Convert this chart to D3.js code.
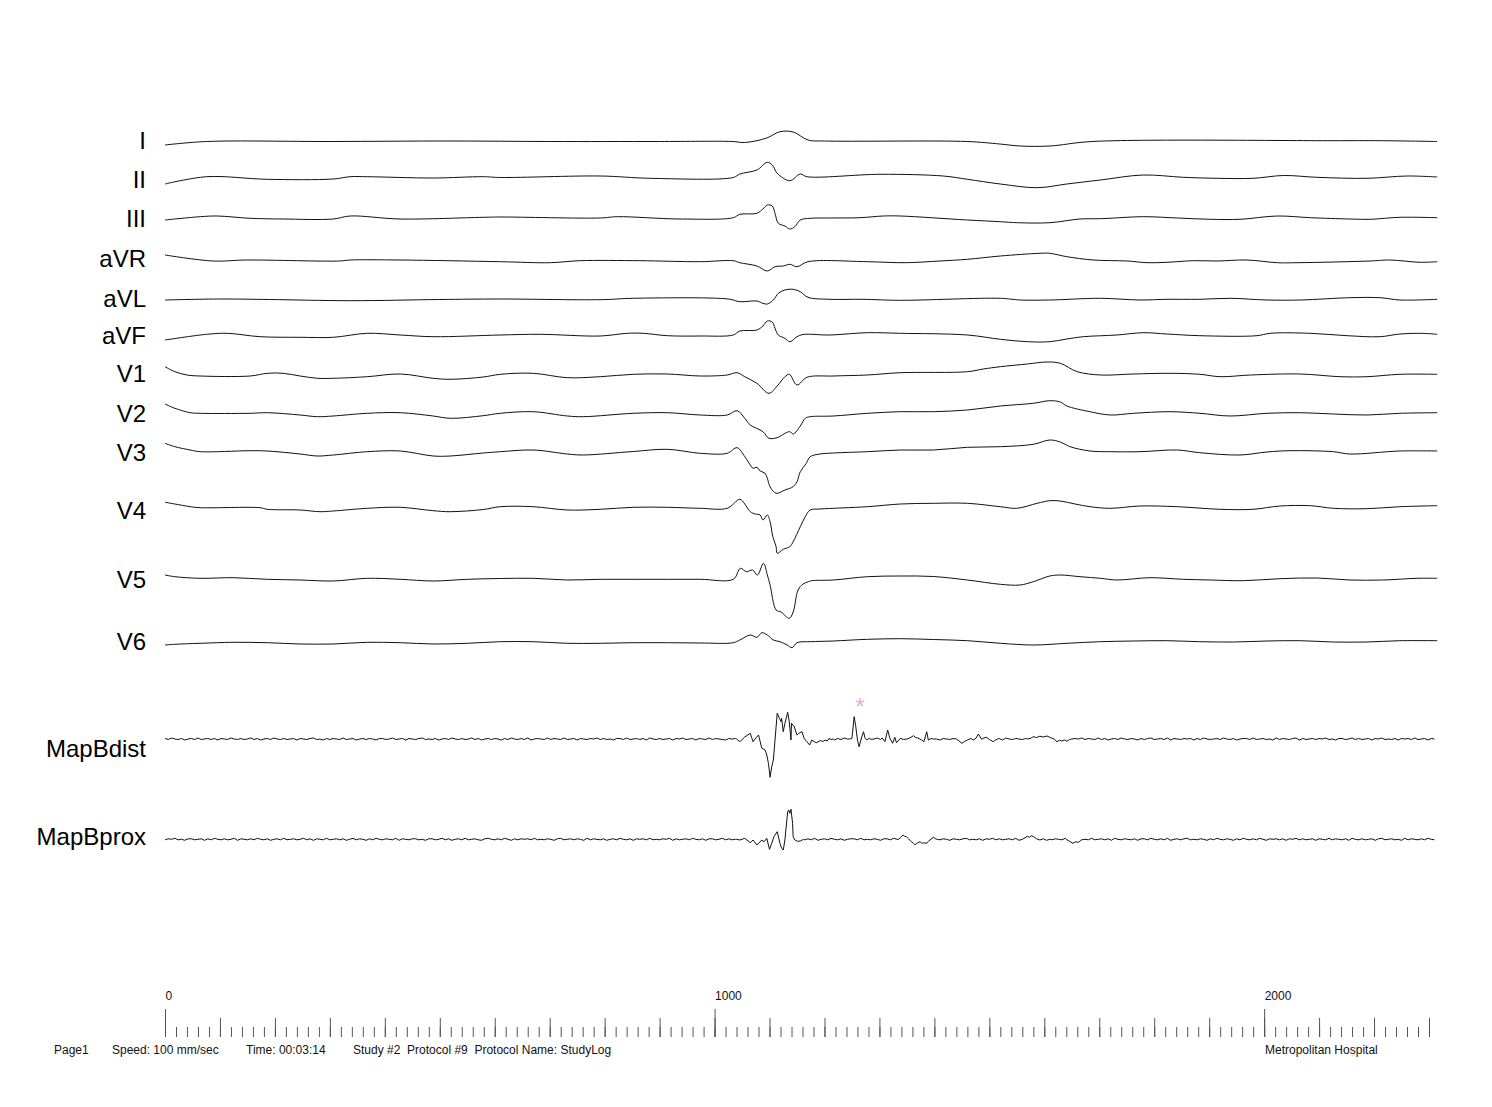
<!DOCTYPE html>
<html>
<head>
<meta charset="utf-8">
<script src="https://cdn.jsdelivr.net/npm/d3@7"></script>
<style>
  body { margin: 0; background: #fff; }
  text { font-family: "Liberation Sans", Arial, Helvetica, sans-serif; }
</style>
</head>
<body>
<div id="chart"></div>
<script>
// ---- data: time in ms, amplitude in mV ----
const leadI = [[0,-0.35],[76,0],[300,0],[520,0.05],[700,0],[900,0],[1032,0],[1055,-0.1],[1095,0.35],[1119,0.98],[1143,0.95],[1170,0.15],[1200,0.05],[1459,0],[1519,-0.25],[1556,-0.45],[1610,-0.45],[1687,0],[2125,0.08],[2211,0.08],[2315,0]];
const leadII = [[0,-0.65],[76,0.08],[186,-0.18],[306,-0.15],[337,0.08],[368,0.08],[488,-0.05],[579,0.08],[610,0],[792,0.15],[883,-0.08],[1034,0],[1046,0.35],[1077,0.75],[1096,1.52],[1105,1.25],[1114,0.42],[1137,-0.32],[1156,0.35],[1168,0.08],[1301,0.32],[1416,0.15],[1460,-0.18],[1520,-0.65],[1587,-1.02],[1641,-0.65],[1702,-0.25],[1780,0.25],[1853,0.02],[1914,-0.08],[1980,-0.08],[2035,0.2],[2096,0.02],[2187,-0.08],[2260,0.15],[2315,0.05]];
const leadIII = [[0,-0.25],[64,0.08],[95,0.15],[155,-0.08],[215,-0.15],[306,-0.15],[337,0.15],[428,-0.15],[579,0.02],[610,0.05],[792,-0.05],[823,0.08],[937,-0.15],[1034,-0.02],[1046,0.32],[1077,0.42],[1088,0.85],[1096,1.25],[1105,1.15],[1110,0.42],[1116,-0.58],[1128,-0.85],[1137,-1.15],[1146,-0.92],[1156,-0.25],[1174,-0.08],[1210,-0.05],[1265,-0.02],[1307,0.15],[1338,0.15],[1460,-0.25],[1520,-0.42],[1550,-0.52],[1610,-0.52],[1665,-0.15],[1702,-0.12],[1780,0.08],[1842,-0.05],[1902,-0.18],[1956,-0.18],[2024,0.15],[2084,-0.02],[2156,-0.15],[2193,-0.18],[2247,0.02],[2315,-0.02]];
const leadAVR = [[0,0.6],[87,0],[149,0.1],[318,0],[337,0.1],[428,0.1],[610,-0.07],[701,-0.17],[755,0.03],[864,0.03],[974,-0.07],[1034,0.03],[1046,-0.17],[1077,-0.5],[1096,-1.0],[1110,-0.57],[1125,-0.5],[1137,-0.33],[1150,-0.57],[1170,-0.07],[1278,-0.07],[1347,-0.17],[1410,0],[1460,0.17],[1520,0.5],[1592,0.77],[1610,0.77],[1641,0.43],[1689,0.1],[1751,0],[1787,-0.17],[1823,-0.13],[1871,0.03],[1914,0],[1969,0.1],[2024,-0.17],[2060,-0.17],[2193,0],[2229,0.1],[2284,-0.13],[2315,-0.07]];
const leadAVL = [[0,-0.05],[100,0.05],[190,0],[337,-0.12],[500,0],[610,0.05],[792,-0.02],[852,0.12],[1025,0.05],[1046,-0.22],[1077,-0.15],[1088,-0.38],[1096,-0.45],[1107,-0.05],[1116,0.62],[1128,0.95],[1143,1.02],[1156,0.78],[1170,0.22],[1210,0.02],[1270,0.02],[1338,-0.08],[1520,0.12],[1556,-0.05],[1610,-0.05],[1702,0.12],[1774,-0.05],[1823,0.02],[1883,0.02],[1938,0.12],[2005,-0.05],[2066,-0.05],[2156,0.18],[2211,0.18],[2247,-0.05],[2315,0.02]];
const leadAVF = [[0,-0.5],[76,0.07],[113,0.17],[173,-0.17],[246,-0.23],[306,-0.23],[368,0.17],[428,0],[488,-0.17],[610,0],[682,0.07],[792,-0.1],[841,0.17],[870,0.17],[914,-0.07],[974,-0.1],[1034,0],[1046,0.4],[1077,0.5],[1088,0.9],[1096,1.4],[1105,1.3],[1110,0.67],[1116,0],[1128,-0.33],[1137,-0.67],[1150,-0.17],[1161,0.05],[1210,0],[1278,0.23],[1338,0.17],[1460,0],[1520,-0.43],[1569,-0.67],[1610,-0.67],[1641,-0.4],[1671,-0.17],[1732,0],[1780,0.23],[1823,0.1],[1883,-0.07],[1987,-0.07],[2011,0.17],[2084,0.17],[2151,-0.07],[2211,-0.17],[2247,0.1],[2284,0.17],[2315,0.07]];
const leadV1 = [[0,0.83],[18,0.33],[40,0],[64,-0.1],[155,-0.1],[186,0.17],[215,0.17],[246,-0.1],[277,-0.33],[306,-0.33],[368,-0.17],[428,0.1],[488,-0.33],[519,-0.43],[579,-0.2],[610,0.07],[670,0.17],[732,-0.27],[792,-0.17],[852,0.07],[914,0.1],[974,-0.1],[1023,0],[1041,0.23],[1055,-0.17],[1077,-0.83],[1099,-1.83],[1114,-1.1],[1128,-0.17],[1136,0.07],[1150,-1.0],[1168,-0.23],[1216,-0.1],[1278,0],[1338,0.23],[1460,0.33],[1489,0.6],[1520,0.83],[1569,1.1],[1605,1.3],[1629,1.17],[1660,0.33],[1702,0],[1762,0.1],[1829,0.17],[1883,0.07],[1920,-0.17],[1975,0],[2066,0.1],[2138,-0.17],[2187,-0.17],[2247,0.07],[2315,0.07]];
const leadV2 = [[0,0.95],[18,0.52],[46,0.08],[64,0.02],[155,0.02],[186,0.08],[246,-0.15],[277,-0.32],[306,-0.25],[368,0.02],[428,0.08],[488,-0.25],[519,-0.48],[579,-0.22],[610,0.02],[670,0.18],[732,-0.25],[761,-0.32],[852,0.02],[914,0.08],[974,-0.15],[1023,-0.15],[1041,0.28],[1055,-0.48],[1065,-1.15],[1088,-1.82],[1099,-2.48],[1116,-2.38],[1128,-1.98],[1137,-1.82],[1143,-2.05],[1156,-1.25],[1165,-0.48],[1174,-0.32],[1216,-0.25],[1278,0.02],[1338,0.18],[1398,0.18],[1460,0.35],[1520,0.75],[1580,1.02],[1610,1.28],[1629,1.15],[1641,0.75],[1683,0.18],[1720,-0.15],[1762,0.02],[1829,0.18],[1883,0.02],[1938,-0.25],[2005,0.02],[2066,0.08],[2126,-0.05],[2187,-0.15],[2247,0.02],[2315,0.08]];
const leadV3 = [[0,0.87],[18,0.53],[46,0.2],[64,0.03],[155,0.13],[186,0.1],[246,-0.2],[277,-0.4],[306,-0.3],[368,0.03],[428,0.1],[488,-0.4],[519,-0.4],[579,-0.1],[610,0.03],[670,0.2],[732,-0.2],[761,-0.3],[852,0.05],[914,0.27],[974,-0.13],[1023,-0.13],[1041,0.43],[1055,-0.47],[1065,-1.3],[1070,-1.63],[1077,-1.53],[1083,-1.9],[1092,-2.13],[1096,-2.63],[1101,-3.47],[1112,-4.13],[1128,-3.8],[1143,-3.47],[1150,-2.97],[1156,-1.97],[1167,-1.13],[1174,-0.47],[1192,-0.2],[1216,-0.1],[1278,0.03],[1338,0.2],[1398,0.2],[1460,0.47],[1520,0.53],[1580,0.77],[1610,1.2],[1629,1.0],[1647,0.53],[1683,0.1],[1720,0.03],[1774,0.03],[1842,0.2],[1883,-0.07],[1956,-0.3],[2005,0],[2047,0.13],[2126,0.03],[2156,-0.2],[2247,0.1],[2315,0.1]];
const leadV4 = [[0,0.47],[18,0.3],[46,0.03],[64,-0.07],[173,-0.07],[186,-0.23],[246,-0.3],[282,-0.47],[306,-0.4],[368,-0.13],[428,-0.03],[488,-0.37],[519,-0.47],[579,-0.25],[610,0.03],[670,0.03],[732,-0.3],[792,-0.23],[852,-0.03],[914,-0.03],[974,-0.13],[1023,-0.13],[1046,0.77],[1055,0.3],[1065,-0.47],[1074,-0.7],[1083,-0.8],[1088,-1.3],[1096,-0.8],[1101,-1.47],[1106,-2.97],[1112,-3.97],[1114,-4.63],[1125,-4.23],[1137,-3.97],[1143,-3.47],[1156,-1.97],[1165,-0.97],[1174,-0.3],[1192,-0.2],[1278,0.03],[1338,0.3],[1398,0.37],[1460,0.37],[1520,0.03],[1550,-0.13],[1587,0.37],[1610,0.63],[1629,0.6],[1656,0.3],[1683,0.03],[1720,-0.13],[1774,0.1],[1842,0.03],[1920,-0.23],[1980,-0.23],[2029,0.1],[2084,0.13],[2126,-0.13],[2187,-0.17],[2247,0.03],[2315,0.13]];
const leadV5 = [[0,0.4],[18,0.23],[64,0.07],[124,0.13],[186,-0.03],[246,-0.1],[306,-0.2],[368,0.07],[428,-0.03],[488,-0.2],[550,-0.03],[610,0.05],[670,0.07],[732,-0.1],[792,-0.03],[852,-0.03],[914,-0.03],[974,-0.03],[1034,-0.03],[1047,1.07],[1058,0.73],[1069,0.9],[1078,0.4],[1089,1.57],[1096,0.4],[1101,-0.6],[1112,-3.1],[1121,-3.3],[1136,-3.93],[1143,-3.3],[1152,-1.1],[1161,-0.5],[1171,-0.27],[1177,-0.17],[1216,-0.1],[1278,0.23],[1338,0.3],[1398,0.25],[1460,-0.1],[1520,-0.53],[1556,-0.6],[1580,-0.27],[1610,0.3],[1629,0.4],[1665,0.23],[1702,0.07],[1732,-0.1],[1792,0.13],[1853,-0.03],[1902,-0.1],[1962,-0.17],[2029,0.03],[2096,0.1],[2156,-0.1],[2217,-0.1],[2278,0.07],[2315,0.07]];
const leadV6 = [[0,-0.3],[18,-0.23],[64,-0.13],[124,-0.03],[186,-0.07],[246,-0.2],[306,-0.2],[368,-0.03],[428,-0.07],[488,-0.2],[550,-0.13],[610,0.03],[670,0.03],[732,-0.13],[792,-0.13],[852,-0.07],[914,-0.07],[974,-0.1],[1034,-0.07],[1046,0.2],[1065,0.7],[1077,0.47],[1086,0.93],[1096,0.7],[1107,0.2],[1119,0.03],[1132,-0.3],[1141,-0.57],[1150,-0.07],[1174,0.03],[1216,0.1],[1278,0.27],[1338,0.33],[1398,0.25],[1460,0.13],[1520,-0.13],[1580,-0.3],[1641,-0.13],[1702,0.03],[1762,0.1],[1823,0.13],[1883,0.03],[1944,0],[2005,0.1],[2066,0.13],[2126,0],[2187,0],[2247,0.13],[2315,0.13]];

// intracardiac baseline: one sample every 6 ms, in counts of 0.05 mV
const sampleStep = 6;
const countMv = 0.05;
const mapBdistBase = [
  1,-1,2,0,-1,1,-2,0,1,-1,2,-1,0,1,-1,1,-2,1,0,-1,
  2,0,-1,1,-1,0,2,-1,1,-2,0,1,-1,2,0,-1,1,-1,0,1,
  -2,1,0,-1,1,2,-1,0,-2,1,-1,1,0,-1,2,-1,0,1,-2,0,
  1,-1,1,0,-2,1,1,-1,0,2,-1,0,1,-2,1,0,-1,1,2,-1,
  0,-1,1,-2,0,1,-1,2,0,-1,1,-1,0,2,-1,1,-2,0,1,-1,
  1,0,-2,1,-1,2,0,-1,1,-1,2,-2,0,1,0,-1,2,-1,1,0,
  -1,2,-1,0,1,-2,1,0,-1,1,0,2,-1,1,-1,0,-2,1,1,-1,
  2,-1,0,1,-1,1,-2,2,0,-1,1,-1,0,1,-2,1,0,2,-1,0,
  1,-2,1,0,-1,2,-1,1,0,-1,-2,1,0,1,-1,2,0,-1,1,-1,
  0,1,-1,2,-2,0,1,-1,1,0,-1,2,-1,0,1,-2,1,-1,2,0,
  -1,1,0,-2,1,-1,2,0,-1,1,1,-2,0,1,-1,0,2,-1,1,-1,
  0,2,-1,1,-1,0,-2,1,0,1,-1,2,-1,1,0,-2,1,0,-1,1,
  2,-1,0,1,-2,1,-1,0,2,-1,1,0,-1,1,-2,2,0,-1,1,0,
  -1,1,-2,0,1,2,-1,0,-1,1,-1,2,0,-2,1,-1,1,0,2,-1,
  1,0,-1,2,-1,1,-2,0,1,-1,2,0,-1,1,0,-2,1,-1,1,2,
  -1,0,1,-1,2,-2,1,0,-1,1,0,1,-2,1,-1,2,0,-1,0,1,
  -1,2,0,-1,1,-2,0,1,1,-1,2,-1,0,1,-1,0,-2,2,-1,1,
  0,-1,1,2,-2,1,-1,0,1,-1,1,0,2,-1,0,-2,1,1,-1,0,
  2,-1,1,-1,0,1,-2,1,0,2,-1,0,-1,1,-2,1,0,1,-1,2,
  -1,0,1,-2,1,0,-1,2,-1,1,0,-1,1,-2,0,2,-1,1,0,-1
];
const mapBproxBase = [
  -1,1,0,2,-1,0,-2,1,1,-1,0,1,-2,1,-1,2,0,-1,1,-1,
  0,2,-2,1,0,-1,1,-1,2,0,-1,1,-2,0,1,-1,2,-1,0,1,
  -1,0,2,-1,1,-2,1,0,-1,2,-1,0,1,-1,1,-2,0,2,-1,1,
  0,-2,1,-1,2,0,-1,1,0,-1,2,-2,1,0,-1,1,1,-1,0,-2,
  1,1,-1,0,2,-1,1,-2,0,1,-1,2,-1,0,1,-1,-2,1,2,0,
  -1,1,-1,2,0,-2,1,-1,1,0,1,-1,2,-1,0,-1,1,0,-2,1,
  2,-1,0,1,-1,1,0,-2,2,-1,1,0,-1,1,-2,0,1,-1,2,0,
  -1,1,-2,1,0,1,-1,2,-1,0,-1,1,0,2,-2,1,-1,0,1,-1,
  2,0,-1,1,-2,1,1,-1,0,2,-1,1,-1,0,1,-2,2,-1,0,1,
  -1,1,0,-1,2,-1,0,1,-2,1,0,-1,2,0,-1,1,-1,2,-2,0,
  1,-1,2,0,-1,1,-2,0,1,1,-1,2,-1,0,-1,1,0,-2,1,1,
  -1,2,0,-1,1,-1,1,-2,0,2,-1,0,1,-1,2,-1,1,0,-2,1,
  0,-1,1,2,-1,0,-1,1,-2,1,0,2,-1,1,-1,0,1,-1,2,-2,
  1,0,-1,1,-1,2,0,-2,1,-1,1,0,-1,2,0,-1,1,-2,1,0,
  -1,2,-1,0,1,-1,1,-2,2,0,-1,1,0,-1,1,-2,1,1,-1,2,
  0,-1,1,-1,2,-2,0,1,-1,1,2,-1,0,-1,1,0,-2,1,-1,2,
  0,-1,1,0,-2,1,-1,2,0,-1,1,-1,2,0,-2,1,0,1,-1,1,
  -2,1,0,2,-1,1,-1,0,1,-2,1,0,-1,2,-1,1,0,-1,1,-2,
  2,0,-1,1,-1,0,1,-2,1,2,-1,0,1,-1,0,-2,2,-1,1,0,
  -1,1,-1,2,0,-1,1,-2,1,0,1,-1,2,-1,0,1,-2,1,0,-1
];
// intracardiac events [ms, mV]; each segment replaces the baseline where it lies
const mapBdistEvents = [
  [[1040,0],[1046,-0.27],[1055,0.2],[1065,0.57],[1070,-0.27],[1075,0.1],[1080,0.4],[1086,-0.93],[1092,-1.1],[1095,-1.6],[1098,-2.43],[1101,-3.83],[1104,-2.77],[1107,-2.1],[1112,1.23],[1114,2.57],[1118,2.07],[1121,1.73],[1122,2.07],[1125,0.73],[1128,1.57],[1133,2.67],[1136,1.73],[1139,-0.1],[1140,1.57],[1145,1.23],[1150,0.4],[1153,0.57],[1159,0.73],[1163,0.07],[1168,-0.27],[1173,-0.6],[1177,-0.1],[1182,-0.3],[1186,-0.37],[1192,-0.15],[1197,-0.25],[1201,-0.1],[1205,-0.2],[1208,0.05],[1212,-0.05],[1216,0]],
  [[1246,0],[1250,0.07],[1254,2.23],[1257,1.23],[1260,-0.1],[1263,-0.77],[1268,0.23],[1271,0.73],[1274,0.07],[1277,-0.1],[1282,0.1]],
  [[1305,0.1],[1310,-0.27],[1315,0.9],[1319,0.07],[1324,-0.43],[1328,0.17],[1331,-0.37],[1338,0.07]],
  [[1355,0.1],[1362,0.33],[1366,0.15],[1370,0.1],[1377,-0.1],[1381,-0.27],[1386,0.73],[1389,-0.1],[1394,0.05],[1398,0]],
  [[1440,0],[1445,-0.2],[1450,-0.43],[1455,-0.25],[1460,-0.1],[1466,0.05],[1471,-0.1],[1476,0.1],[1480,0.5],[1486,-0.03],[1490,0.1],[1495,0.17],[1500,-0.05],[1507,-0.27],[1511,-0.1],[1515,0]],
  [[1570,0],[1576,0.1],[1580,0.23],[1586,0.15],[1592,0.28],[1598,0.2],[1605,0.3],[1612,0.12],[1618,0],[1623,-0.27],[1628,-0.12],[1632,-0.2],[1637,-0.1],[1641,-0.22],[1646,-0.05],[1650,0]]
];
const mapBproxEvents = [
  [[1040,0],[1046,-0.07],[1055,0.1],[1065,-0.34],[1070,-0.07],[1077,-0.57],[1086,-0.07],[1090,-0.25],[1095,0.1],[1100,-1.0],[1104,-0.4],[1108,0.26],[1114,0.76],[1119,-0.4],[1122,-0.9],[1125,-1.07],[1128,-0.07],[1133,2.76],[1135,2.93],[1137,2.6],[1139,3.0],[1142,1.6],[1143,0.26],[1146,-0.07],[1151,-0.2],[1156,-0.17],[1162,0]],
  [[1335,0],[1339,0.2],[1343,0.43],[1346,0.3],[1349,0.26],[1353,0.05],[1358,-0.24],[1362,-0.4],[1365,-0.57],[1369,-0.35],[1374,-0.24],[1377,-0.4],[1380,-0.35],[1386,-0.4],[1389,-0.2],[1392,-0.07],[1398,0.2],[1402,0.05],[1405,0]],
  [[1560,0],[1565,0.15],[1569,0.3],[1573,0.2],[1577,0.35],[1581,0.25],[1586,0.05],[1592,-0.07],[1598,0.05],[1604,-0.1],[1610,0]],
  [[1640,0],[1646,-0.2],[1652,-0.4],[1657,-0.25],[1662,-0.3],[1668,-0.05],[1674,0]]
];

const leadNames = ["I","II","III","aVR","aVL","aVF","V1","V2","V3","V4","V5","V6","MapBdist","MapBprox"];
const surfaceLeads = [leadI, leadII, leadIII, leadAVR, leadAVL, leadAVF, leadV1, leadV2, leadV3, leadV4, leadV5, leadV6];
const tickLabels = [0, 1000, 2000];
const timeEnd = 2315;
const starMarks = [1265];           // annotated far-field spike on MapBdist
const footerTexts = ["Page1", "Speed: 100 mm/sec", "Time: 00:03:14", "Study #2  Protocol #9  Protocol Name: StudyLog", "Metropolitan Hospital"];

// ---- layout ----
const width = 1492, height = 1107;
const rowY   = [141.5, 177.5, 217.5, 261, 299.5, 335, 375, 413.5, 452, 507, 579, 642, 739, 839.3];
const labelY = [149, 188.3, 227, 266.7, 306.7, 344, 382.3, 421.7, 460.7, 519.3, 588.3, 650, 757.3, 845];
const footerX = [54, 112, 246, 353, 1265];

const svg = d3.select("#chart")
  .append("svg")
  .attr("width", width)
  .attr("height", height)
  .style("background", "#fff");

const x = d3.scaleLinear().domain([0, 2300]).range([165, 1429]);
const amp = d3.scaleLinear().domain([-5, 5]).range([50, -50]);   // 10 px per mV
const rowScale = d3.scaleOrdinal().domain(leadNames).range(rowY);

// merge baseline samples with event segments
function buildIntra(base, events) {
  const pts = [];
  base.forEach((c, i) => {
    const t = i * sampleStep;
    if (t > timeEnd) return;
    const inside = events.some(seg => t >= seg[0][0] && t <= seg[seg.length - 1][0]);
    if (!inside) pts.push([t, c * countMv]);
  });
  events.forEach(seg => seg.forEach(p => pts.push(p)));
  pts.sort((a, b) => a[0] - b[0]);
  return pts;
}

const channels = leadNames.map((name, i) => {
  let pts;
  if (i < 12) pts = surfaceLeads[i];
  else if (name === "MapBdist") pts = buildIntra(mapBdistBase, mapBdistEvents);
  else pts = buildIntra(mapBproxBase, mapBproxEvents);
  return { name: name, pts: pts, intra: i >= 12 };
});

const smoothLine = d3.line()
  .x(d => x(d[0]))
  .y(d => amp(d[1]))
  .curve(d3.curveCatmullRom.alpha(0.5));

const rawLine = d3.line()
  .x(d => x(d[0]))
  .y(d => amp(d[1]));

const rows = svg.append("g")
  .selectAll("g")
  .data(channels)
  .join("g")
  .attr("transform", d => `translate(0,${rowScale(d.name)})`);

rows.append("path")
  .attr("d", d => d.intra ? rawLine(d.pts) : smoothLine(d.pts))
  .attr("fill", "none")
  .attr("stroke", "#111")
  .attr("stroke-width", 1)
  .attr("stroke-linejoin", "round");

// channel labels
svg.append("g")
  .selectAll("text")
  .data(leadNames)
  .join("text")
  .attr("x", 146)
  .attr("y", (d, i) => labelY[i])
  .attr("text-anchor", "end")
  .attr("font-size", 24)
  .attr("fill", "#000")
  .text(d => d);

// star annotation
svg.append("g")
  .selectAll("text")
  .data(starMarks)
  .join("text")
  .attr("x", d => x(d))
  .attr("y", 715)
  .attr("text-anchor", "middle")
  .attr("font-size", 24)
  .attr("fill", "#f0a8e0")
  .text("*");

// time ruler: three tick tiers, no domain line
const rulerY = 1037;
function ruler(step, size) {
  const g = svg.append("g")
    .attr("transform", `translate(0,${rulerY})`)
    .call(d3.axisTop(x).tickValues(d3.range(0, 2301, step)).tickSize(size).tickFormat(""));
  g.select(".domain").remove();
  g.selectAll(".tick line").attr("stroke", "#555");
  return g;
}
ruler(20, 10);
ruler(100, 19);
const major = svg.append("g")
  .attr("transform", `translate(0,${rulerY})`)
  .call(d3.axisTop(x).tickValues(tickLabels).tickSize(28).tickPadding(9).tickFormat(d3.format("d")));
major.select(".domain").remove();
major.selectAll(".tick line").attr("stroke", "#555");
major.selectAll(".tick text")
  .attr("text-anchor", "start")
  .attr("font-size", 12)
  .attr("font-family", "Liberation Sans, Arial, sans-serif")
  .attr("fill", "#111");

// footer
svg.append("g")
  .selectAll("text")
  .data(footerTexts)
  .join("text")
  .attr("x", (d, i) => footerX[i])
  .attr("y", 1054)
  .attr("font-size", 12)
  .attr("fill", "#111")
  .style("white-space", "pre")
  .text(d => d);
</script>
</body>
</html>
